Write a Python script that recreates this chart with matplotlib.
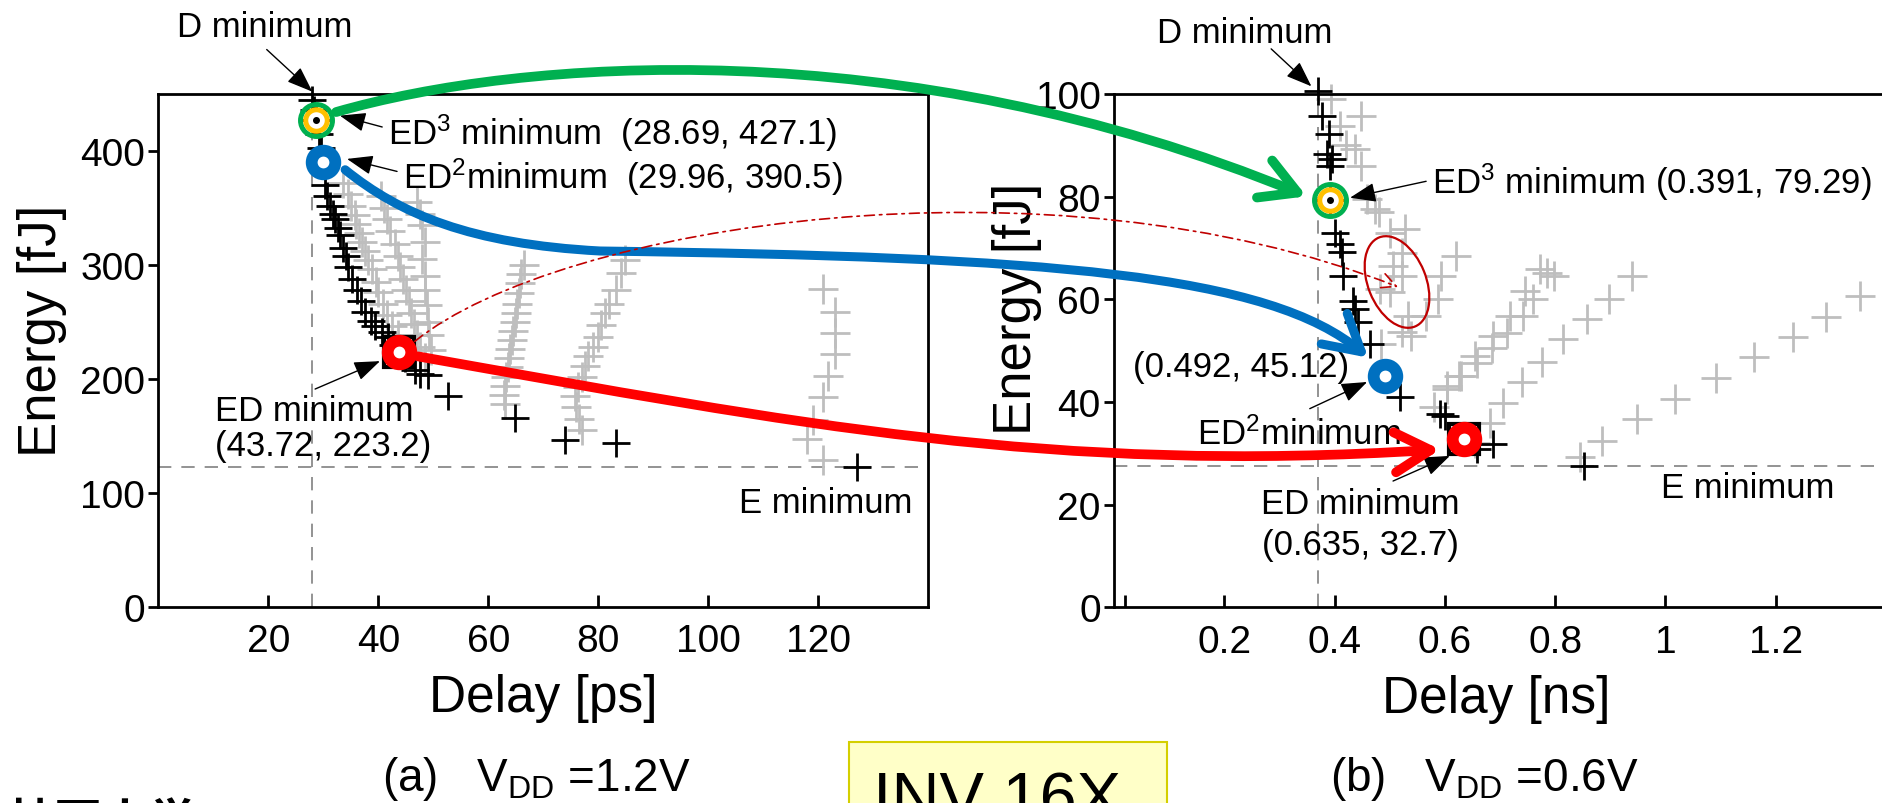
import matplotlib
matplotlib.use("Agg")
import matplotlib.pyplot as plt
from matplotlib.patches import FancyArrowPatch, Ellipse, Rectangle
from matplotlib.path import Path

plt.rcParams['font.family'] = ['Liberation Sans', 'DejaVu Sans']
plt.rcParams['mathtext.fontset'] = 'custom'
plt.rcParams['mathtext.rm'] = 'Liberation Sans'
plt.rcParams['mathtext.it'] = 'Liberation Sans:italic'

# ---------------- (a) VDD = 1.2 V : delay [ps], energy [fJ] ----------------
a_black_delay = [28.0, 28.3, 28.69, 29.2, 29.6, 29.96, 30.3, 30.6, 31.2, 31.8, 32.1, 32.7,
                 33.1, 33.6, 34.1, 34.5, 35.3, 36.1, 36.9, 37.6, 38.6, 39.4, 40.6, 41.8,
                 42.6, 43.72, 44.8, 46.7, 47.6, 49.1, 52.7, 64.9, 73.9, 83.3, 127.1]
a_black_energy = [445, 436, 427.1, 415, 403, 390.5, 370, 360, 352, 345, 340, 332,
                  326, 315, 308, 298, 288, 278, 268, 259, 251, 246, 241, 237,
                  230, 223.2, 218, 208, 204, 203.5, 184.5, 165.5, 146.5, 143.6, 122.2]

a_gray_delay = [33.5, 34.5, 35.0, 35.8, 36.0, 36.5, 37.0, 37.5, 38.2, 38.8, 39.5, 40.0, 40.8, 41.5, 42.5, 43.5,
                40.5, 41.0, 41.5, 42.2, 43.0, 43.5, 44.0, 44.5, 45.0, 45.5, 46.0, 46.5, 47.0, 47.5, 48.5,
                47.0, 47.5, 48.0, 48.5, 48.0, 48.5, 48.5, 48.8, 49.0, 49.3, 49.5,
                66.5, 66.0, 65.8, 65.5, 65.3, 65.0, 64.8, 64.5, 64.3, 64.0, 63.8, 63.5, 63.3, 63.0, 62.8, 63.0,
                84.8, 84.2, 83.3, 82.0, 81.2, 80.5, 80.0, 79.0, 78.2, 77.6, 77.0, 76.3, 75.8, 76.0, 76.4, 77.0,
                120.9, 123.0, 123.0, 123.0, 121.8, 120.9, 119.1, 117.9, 120.9]
a_gray_energy = [372, 362, 352, 344, 336, 328, 320, 312, 304, 296, 285, 276, 266, 256, 246, 238,
                 360, 350, 340, 330, 318, 308, 298, 288, 278, 268, 258, 248, 238, 228, 218,
                 355, 345, 335, 320, 305, 290, 278, 265, 250, 238, 225,
                 300, 292, 284, 275, 266, 258, 250, 242, 234, 226, 218, 210, 202, 194, 186, 178,
                 304, 293, 278, 266, 258, 247, 237, 228, 220, 211, 202, 193, 184.5, 175, 165, 155,
                 278.7, 259, 240, 221.6, 202.6, 183.6, 164, 147, 129]

a_ed3 = (28.69, 427.1)
a_ed2 = (29.96, 390.5)
a_ed = (43.72, 223.2)

# ---------------- (b) VDD = 0.6 V : delay [ns], energy [fJ] ----------------
b_black_delay = [0.370, 0.377, 0.389, 0.386, 0.395, 0.392, 0.391, 0.401, 0.410, 0.413, 0.416,
                 0.434, 0.437, 0.443, 0.464, 0.492, 0.518, 0.591, 0.600, 0.635, 0.658, 0.688, 0.853]
b_black_energy = [100.5, 95.8, 92.2, 88.3, 87.3, 86.0, 79.29, 73.0, 70.8, 69.2, 64.6,
                  59.7, 58.1, 55.5, 51.3, 45.12, 40.9, 37.6, 37.2, 32.7, 30.8, 31.8, 27.5]

b_gray_delay = [0.394, 0.410, 0.420, 0.448, 0.437, 0.447, 0.458, 0.480, 0.501, 0.528, 0.522, 0.506,
                0.522, 0.501, 0.533, 0.522, 0.538, 0.485, 0.620, 0.593, 0.588, 0.566, 0.473, 0.482,
                0.580, 0.603, 0.630, 0.655, 0.688, 0.718, 0.745, 0.773, 0.797,
                0.603, 0.625, 0.658, 0.685, 0.712, 0.742, 0.760, 0.785,
                0.655, 0.682, 0.706, 0.739, 0.776, 0.815, 0.858, 0.897, 0.939,
                0.845, 0.885, 0.948, 1.018, 1.091, 1.161, 1.232, 1.291, 1.352]
b_gray_energy = [99.0, 93.8, 90.0, 95.8, 89.3, 86.0, 79.5, 77.0, 73.0, 73.7, 69.0, 66.5,
                 64.6, 61.4, 56.8, 53.6, 52.9, 51.3, 68.5, 64.6, 60.0, 56.8, 77.6, 62.0,
                 39.0, 43.1, 45.1, 49.0, 52.9, 56.8, 61.7, 65.9, 64.6,
                 42.5, 45.0, 47.6, 50.5, 53.5, 56.8, 60.0, 65.2,
                 32.0, 36.0, 39.9, 43.8, 47.7, 52.2, 56.1, 60.0, 64.6,
                 29.2, 32.4, 36.6, 40.5, 44.6, 48.7, 52.6, 56.5, 60.6]

b_ed3 = (0.391, 79.29)
b_ed2 = (0.492, 45.12)
b_ed = (0.635, 32.7)

a_xticks = [20, 40, 60, 80, 100, 120]
a_yticks = [0, 100, 200, 300, 400]
b_xticks = [0.2, 0.4, 0.6, 0.8, 1.0, 1.2]
b_xticklabels = ['0.2', '0.4', '0.6', '0.8', '1', '1.2']
b_yticks = [0, 20, 40, 60, 80, 100]

GREEN = '#00B050'
ORANGE = '#FFC000'
BLUE = '#0070C0'
RED = '#FF0000'
DARKRED = '#C00000'
GRAY = '#BEBEBE'
FS = 25

fig = plt.figure(figsize=(18.83, 8.04), dpi=100)
ax1 = fig.add_axes([0.0841, 0.2442, 0.4089, 0.6377])
ax2 = fig.add_axes([0.5916, 0.2434, 0.4121, 0.6384])


def style(ax):
    for s in ax.spines.values():
        s.set_linewidth(2)
    ax.tick_params(axis='x', direction='in', length=8.5, width=2, labelsize=28, pad=12)
    ax.tick_params(axis='y', direction='out', length=7.5, width=2, labelsize=28, pad=2)


def draw_panel(ax, bx, by, gx, gy, ed3, ed2, ed):
    ax.axvline(min(bx), color='#808080', lw=1.2, dashes=(8, 6), zorder=1)
    ax.axhline(min(by), color='#808080', lw=1.2, dashes=(8, 6), zorder=1)
    ax.plot(gx, gy, '+', color=GRAY, ms=21, mew=2.0, zorder=2, clip_on=False)
    ax.plot(bx, by, '+', color='black', ms=20, mew=2.0, zorder=3, clip_on=False)
    ax.plot(*ed, 's', ms=21, mew=3, mec='black', mfc='none', zorder=4, clip_on=False)
    # ED^3 : green ring with orange inner ring
    ax.plot(*ed3, 'o', ms=23, mew=3.6, mec=GREEN, mfc='none', zorder=6, clip_on=False)
    ax.plot(*ed3, 'o', ms=15.5, mew=3.6, mec=ORANGE, mfc='white', zorder=6, clip_on=False)
    ax.plot(*ed3, 'o', ms=4, color='black', zorder=6, clip_on=False)
    ax.plot(*ed2, 'o', ms=17, mew=8.5, mec=BLUE, mfc='white', zorder=6, clip_on=False)
    ax.plot(*ed, 'o', ms=17, mew=8.5, mec=RED, mfc='white', zorder=6, clip_on=False)


style(ax1)
style(ax2)
draw_panel(ax1, a_black_delay, a_black_energy, a_gray_delay, a_gray_energy, a_ed3, a_ed2, a_ed)
draw_panel(ax2, b_black_delay, b_black_energy, b_gray_delay, b_gray_energy, b_ed3, b_ed2, b_ed)

ax1.set_xlim(0, 140)
ax1.set_ylim(0, 450)
ax1.set_xticks(a_xticks)
ax1.set_yticks(a_yticks)
ax2.set_xlim(0, 1.407)
ax2.set_ylim(0, 100)
ax2.set_xticks(b_xticks)
ax2.set_xticklabels(b_xticklabels)
ax2.set_xticks([0.02], minor=True)
ax2.tick_params(axis='x', which='minor', direction='in', length=8.5, width=2)
ax2.set_yticks(b_yticks)

ax1.set_xlabel('Delay [ps]', fontsize=37)
ax1.set_ylabel('Energy [fJ]', fontsize=38)
ax2.set_xlabel('Delay [ns]', fontsize=37)
ax2.set_ylabel('Energy [fJ]', fontsize=38)
ax1.xaxis.set_label_coords(0.5, -0.13)
ax2.xaxis.set_label_coords(0.492, -0.13)
ax1.yaxis.set_label_coords(-0.1186, 0.54)
ax2.yaxis.set_label_coords(-0.0928, 0.583)

arrow_kw = dict(arrowstyle='-|>,head_length=0.8,head_width=0.3', lw=1, color='black',
                mutation_scale=20, shrinkA=0, shrinkB=0)


def pointer(ax, head, tail):
    ax.annotate('', xy=head, xytext=tail, arrowprops=arrow_kw, annotation_clip=False, zorder=7)


# annotations (a)
ax1.text(19.4, 509, 'D minimum', ha='center', va='center', fontsize=FS)
pointer(ax1, (28.0, 452), (19.7, 489))
ax1.text(41.8, 416, r'ED$^3$ minimum  (28.69, 427.1)', ha='left', va='center', fontsize=FS)
pointer(ax1, (33.0, 431), (40.7, 421))
ax1.text(44.5, 378, r'ED$^2$minimum  (29.96, 390.5)', ha='left', va='center', fontsize=FS)
pointer(ax1, (34.3, 393), (43.4, 382))
ax1.text(10.3, 157, 'ED minimum\n(43.72, 223.2)', ha='left', va='center', fontsize=FS, linespacing=1.07)
pointer(ax1, (40.3, 215.5), (28.5, 191))
ax1.text(121.3, 91.8, 'E minimum', ha='center', va='center', fontsize=FS)

# annotations (b)
ax2.text(0.2366, 112, 'D minimum', ha='center', va='center', fontsize=FS)
pointer(ax2, (0.358, 101.5), (0.285, 108.8))
ax2.text(0.5766, 83.05, r'ED$^3$ minimum (0.391, 79.29)', ha='left', va='center', fontsize=FS)
pointer(ax2, (0.428, 79.8), (0.566, 83.0))
ax2.text(0.426, 47.0, '(0.492, 45.12)', ha='right', va='center', fontsize=FS)
ax2.text(0.1505, 33.8, r'ED$^2$minimum', ha='left', va='center', fontsize=FS)
pointer(ax2, (0.459, 43.9), (0.355, 38.7))
ax2.text(0.446, 16.3, 'ED minimum\n(0.635, 32.7)', ha='center', va='center', fontsize=FS,
         linespacing=1.3, multialignment='center')
pointer(ax2, (0.609, 29.5), (0.506, 24.6))
ax2.text(1.149, 23.4, 'E minimum', ha='center', va='center', fontsize=FS)

# captions
fig.text(536 / 1883, 1 - 779 / 804, r'(a)   V$_{\mathrm{DD}}$ =1.2V', ha='center', va='center', fontsize=33)
fig.text(1484 / 1883, 1 - 779 / 804, r'(b)   V$_{\mathrm{DD}}$ =0.6V', ha='center', va='center', fontsize=33)

fig.add_artist(Rectangle((849 / 1883, -26 / 804), 318 / 1883, 87 / 804, transform=fig.transFigure,
                         fc='#FFFFC8', ec='#D4CF00', lw=1.5, zorder=0))
fig.text(873 / 1883, -16 / 804, 'INV 16X', fontsize=48, ha='left', va='baseline')
fig.text(7 / 1883, -35 / 804, '神戸大学', fontsize=34, weight='bold',
         family=['Noto Sans CJK JP', 'DejaVu Sans'], ha='left', va='baseline')

# ---------------- connecting arrows across both panels ----------------
DPI = fig.dpi


def px(x, y):
    # reference pixel (y down) -> inches
    return (x / DPI, (804 - y) / DPI)


def at(ax, pt, dx=0, dy=0):
    d = ax.transData.transform(pt)
    return ((d[0] + dx) / DPI, (d[1] - dy) / DPI)


def curve(verts, color, lw, style, ms, ls='-'):
    codes = [Path.MOVETO] + [Path.CURVE4] * (len(verts) - 1)
    p = FancyArrowPatch(path=Path(verts, codes), arrowstyle=style, mutation_scale=ms,
                        color=color, lw=lw, linestyle=ls, transform=fig.dpi_scale_trans,
                        shrinkA=0, shrinkB=0, capstyle='round', joinstyle='round', zorder=8)
    fig.add_artist(p)


head = '->,head_length=0.8,head_width=0.45'
curve([at(ax1, a_ed3, 20, -8), px(520, 60), px(900, 30), at(ax2, b_ed3, -23, -4)],
      GREEN, 7, head, 32)
curve([at(ax1, a_ed2, 22, 8), px(400, 215), px(470, 245), px(600, 252),
       px(1050, 258), px(1270, 275), at(ax2, b_ed2, -17, -18)],
      BLUE, 6.5, head, 32)
curve([at(ax1, a_ed, 19, 4), px(800, 425), px(1050, 475), at(ax2, b_ed, -24, 10)],
      RED, 7, head, 32)
curve([at(ax1, a_ed, 16, -11), px(560, 225), px(1050, 150), px(1398, 288)],
      DARKRED, 1.2, '->,head_length=0.6,head_width=0.3', 18, ls=(0, (6, 3, 1.5, 3)))

c = px(1397, 283)
fig.add_artist(Ellipse(c, 58 / DPI, 96 / DPI, angle=22, transform=fig.dpi_scale_trans,
                       fill=False, ec=DARKRED, lw=1.6, zorder=8))

fig.savefig('out.png', dpi=100)
